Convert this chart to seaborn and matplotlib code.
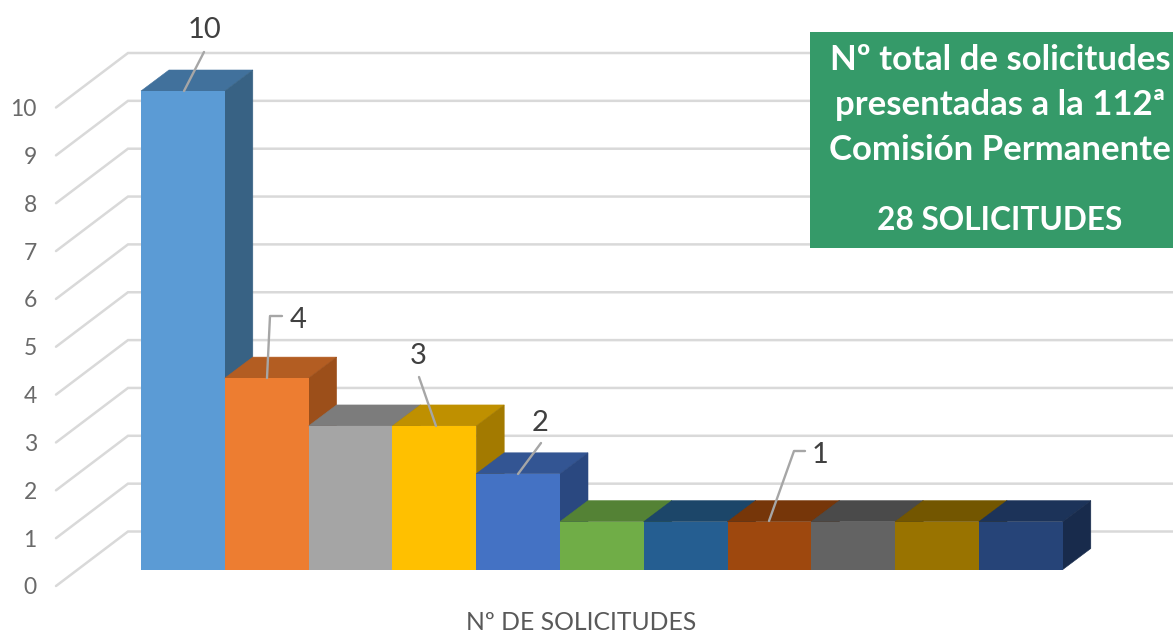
import matplotlib
matplotlib.use('Agg')
import matplotlib.pyplot as plt
from matplotlib.patches import Polygon, Rectangle
import seaborn as sns

categories = ['1', '2', '3', '4', '5', '6', '7', '8', '9', '10', '11']
values = [10, 4, 3, 3, 2, 1, 1, 1, 1, 1, 1]
front_colors = ['#5B9BD5', '#ED7D31', '#A5A5A5', '#FFC000', '#4472C4', '#70AD47',
                '#255E91', '#9E480E', '#636363', '#997300', '#264478']
top_colors = ['#41719C', '#B35D22', '#7C7C7C', '#BF9000', '#335593', '#548235',
              '#1C4669', '#763609', '#4A4A4A', '#735600', '#1C3359']
side_colors = ['#386284', '#9C4F1A', '#696969', '#A37A00', '#2A4880', '#47702D',
               '#173C59', '#642E08', '#3F3F3F', '#624900', '#182B4C']
y_ticks = [0, 1, 2, 3, 4, 5, 6, 7, 8, 9, 10]
axis_label = 'Nº DE SOLICITUDES'
box_lines = ['Nº total de solicitudes', 'presentadas a la 112ª', 'Comisión Permanente']
box_total = '28 SOLICITUDES'

W, H = 1173, 635
# pixel scale of the picture: one bar is 83.8 px wide, one unit is 47.85 px high
X_UNIT, Y_UNIT = 83.8, 47.85
X0, Y0 = 141, 569.5


def px(x, y):
    # picture pixel -> data coords
    return (x - X0) / X_UNIT - 0.5, (Y0 - y) / Y_UNIT


sns.set_theme(style='white')
plt.rcParams['font.family'] = ['Lato', 'DejaVu Sans']

fig = plt.figure(figsize=(W / 100, H / 100), dpi=100)
ax = fig.add_axes([0, 0, 1, 1])

df_bars = {'cat': categories, 'val': values}
sns.barplot(data=df_bars, x='cat', y='val', hue='cat', palette=front_colors,
            width=1, legend=False, saturation=1, ax=ax)

ax.set_xlim(px(0, 0)[0], px(W, 0)[0])
ax.set_ylim(px(0, H)[1], px(0, 0)[1])
sns.despine(ax=ax, left=True, bottom=True)
ax.set_xticks([])
ax.set_xlabel('')
ax.set_ylabel('')

# depth of the fake 3D
dx = 28 / X_UNIT
dy = 21 / Y_UNIT

for i, bar in enumerate(ax.patches):
    x0 = bar.get_x()
    x1 = x0 + bar.get_width()
    h = bar.get_height()
    bar.set_edgecolor('none')
    ax.add_patch(Polygon([(x0, h), (x1, h), (x1 + dx, h + dy), (x0 + dx, h + dy)],
                         facecolor=top_colors[i], edgecolor=top_colors[i], lw=0.4, zorder=5 + i))
    ax.add_patch(Polygon([(x1, 0), (x1 + dx, dy), (x1 + dx, h + dy), (x1, h)],
                         facecolor=side_colors[i], edgecolor=side_colors[i], lw=0.4, zorder=5 + i))
    # front goes last so the seam stays clean
    bar.set_zorder(5.5 + i)

# walls: slanted part on the left, then flat to the right edge
wall_low = px(56, Y0 + 16.5)
wall_corner = px(128, Y0 - 38)
for v in y_ticks:
    ax.plot([wall_low[0], wall_corner[0], px(W, 0)[0]],
            [v + wall_low[1], v + wall_corner[1], v + wall_corner[1]],
            color='#D9D9D9', lw=1.8, zorder=1, solid_joinstyle='miter')

ax.set_yticks([v + wall_low[1] for v in y_ticks], [str(v) for v in y_ticks])
ax.tick_params(axis='y', length=0, pad=-26.5, labelsize=16.5, labelcolor='#6A6A6A')
for t in ax.get_yticklabels():
    t.set_horizontalalignment('right')

# data labels with their leader lines
leaders = [
    (0, [(184, 91), (204, 52)], (204.5, 30)),
    (1, [(267, 378), (270, 316), (282, 316)], (298.5, 320)),
    (3, [(436, 426), (419, 377)], (418, 356)),
    (4, [(518, 474), (541, 443)], (540, 423)),
    (7, [(769, 521), (794, 451), (805, 451)], (820, 455)),
]
for idx, path, pos in leaders:
    xs, ys = zip(*[px(*p) for p in path])
    ax.plot(xs, ys, color='#A6A6A6', lw=1.7, zorder=30)
    ax.text(*px(*pos), str(values[idx]), ha='center', va='center', fontsize=21,
            color='#404040', zorder=30)

ax.text(*px(581, 623), axis_label, ha='center', va='center', fontsize=17.8, color='#595959')

# green box, top right
bx0, by0 = px(810, 248)
bx1, by1 = px(W, 32)
ax.add_patch(Rectangle((bx0, by0), bx1 - bx0, by1 - by0, facecolor='#359A69',
                       edgecolor='none', zorder=40))
for line, y in zip(box_lines, [60, 105, 150]):
    ax.text(*px(1000, y), line, ha='center', va='center', fontsize=25, fontweight='bold',
            color='white', zorder=41)
ax.text(*px(1000, 221), box_total, ha='center', va='center', fontsize=22.8, fontweight='bold',
        color='white', zorder=41)

fig.savefig('out.png', dpi=100)
